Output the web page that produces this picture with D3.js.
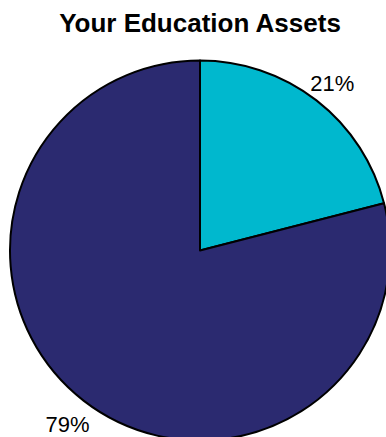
<!DOCTYPE html>
<html>
<head>
<meta charset="utf-8">
<script src="https://cdn.jsdelivr.net/npm/d3@7"></script>
<style>
  html, body { margin: 0; padding: 0; background: #fff; overflow: hidden; }
</style>
</head>
<body>
<div id="chart"></div>
<script>
// chart data
const categories = ["Education A", "Education B"];
const values = [21, 79];
const labels = ["21%", "79%"];
const colors = ["#00B8CE", "#2B2A70"];
const title = "Your Education Assets";

const width = 386, height = 437;
const cx = 200, cy = 250.5, radius = 190;

let svg = d3.select('#chart')
    .append('svg')
    .attr('width', width)
    .attr('height', height);

// Title
svg.append('text')
    .attr('x', 200)
    .attr('y', 32)
    .attr('text-anchor', 'middle')
    .style('font-family', '"Liberation Sans", Arial, sans-serif')
    .style('font-size', '26px')
    .style('font-weight', 'bold')
    .text(title);

let pie = d3.pie().sort(null).value(d => d);
let arcs = pie(values);

let arc = d3.arc().innerRadius(0).outerRadius(radius);
let labelArc = d3.arc().innerRadius(216).outerRadius(216);

let g = svg.append('g')
    .attr('transform', `translate(${cx},${cy})`);

g.selectAll('.slice')
    .data(arcs)
    .enter().append('path')
    .attr('class', 'slice')
    .attr('d', arc)
    .attr('fill', (d, i) => colors[i])
    .attr('stroke', '#000')
    .attr('stroke-width', 2)
    .attr('stroke-linejoin', 'round');

g.selectAll('.label')
    .data(arcs)
    .enter().append('text')
    .attr('class', 'label')
    .attr('transform', d => `translate(${labelArc.centroid(d)})`)
    .attr('dy', '0.5em')
    .attr('text-anchor', 'middle')
    .style('font-family', '"Liberation Sans", Arial, sans-serif')
    .style('font-size', '22px')
    .style('fill', '#000')
    .text((d, i) => labels[i]);
</script>
</body>
</html>
